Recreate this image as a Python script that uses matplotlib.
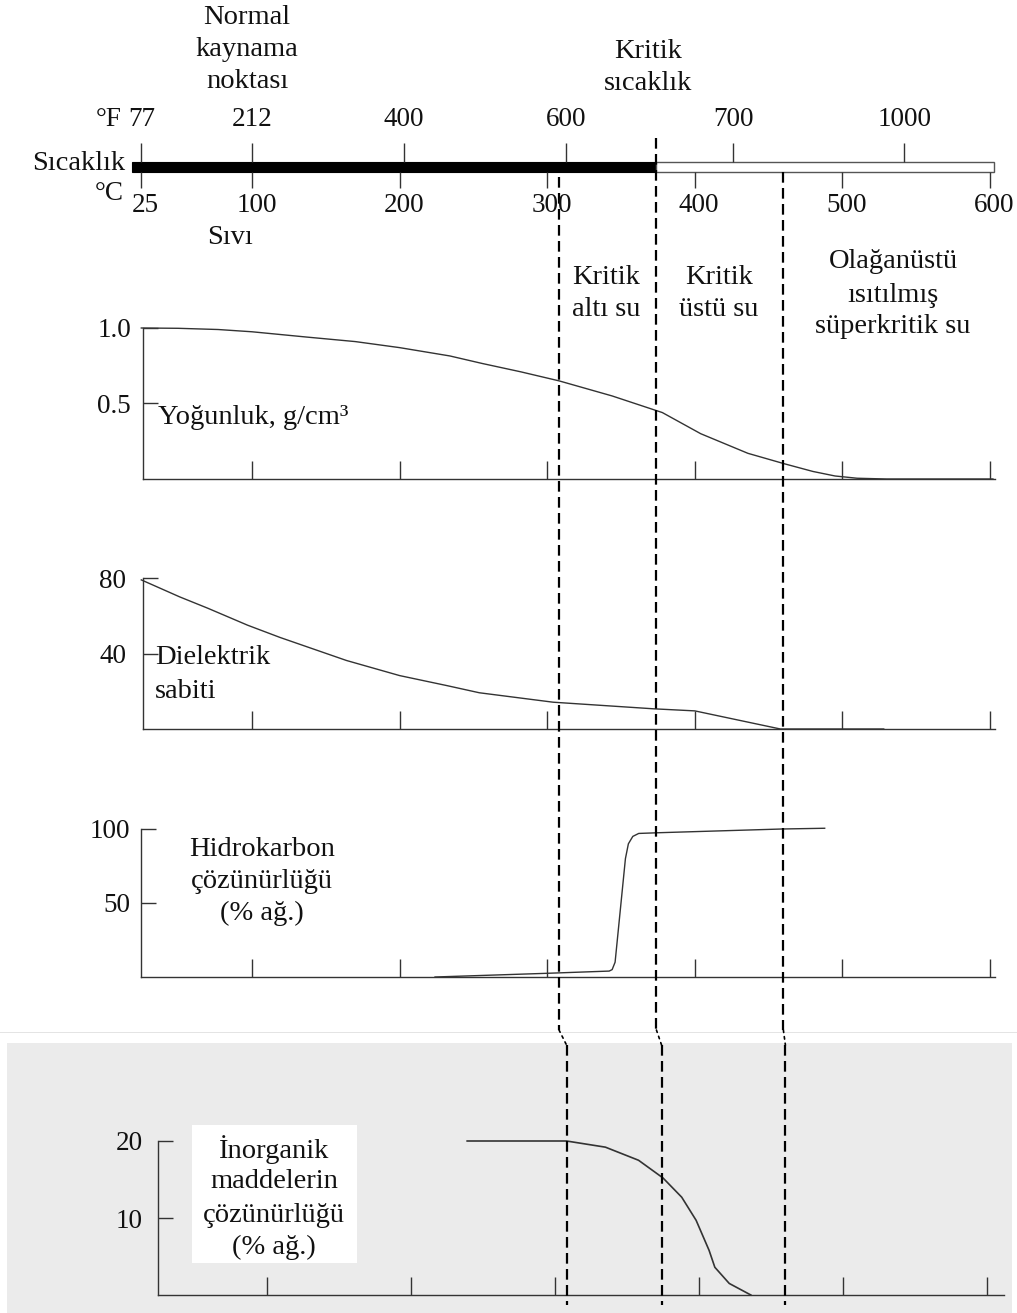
import matplotlib
matplotlib.use('Agg')
import matplotlib.pyplot as plt
from matplotlib.patches import Rectangle, ConnectionPatch

# ---------------- data ----------------
c_ticks = [25, 100, 200, 300, 400, 500, 600]
c_tick_labels = ['25', '100', '200', '300', '400', '500', '600']
f_tick_labels = ['77', '212', '400', '600', '700', '1000']
f_tick_pos_c = [25, 100, 203, 313, 426, 542]      # where the °F marks sit on the °C scale in the original
critical_T = 374
bar_start_T = 19
bar_end_T = 603
region_bounds_T = [308, 374, 460]

density_T = [25, 50, 77, 100, 137, 170, 200, 234, 256, 282, 308, 344, 378, 404, 436, 461, 480, 495, 510, 530, 602]
density_val = [1.0, 0.998, 0.99, 0.975, 0.94, 0.91, 0.87, 0.815, 0.765, 0.71, 0.65, 0.55, 0.44, 0.30, 0.17, 0.10, 0.05, 0.02, 0.005, 0.0, 0.0]

dielectric_T = [25, 51, 70, 97, 119, 164, 200, 232, 254, 304, 372, 400, 458, 528]
dielectric_val = [79, 70, 64, 55, 48.5, 36.3, 28.3, 23, 19.2, 14.2, 10.7, 9.6, 0, 0]

hydro_T = [224, 300, 342, 344, 346, 348, 351, 353, 355, 358, 362, 376, 459, 488]
hydro_val = [0, 2.5, 4, 5, 10, 30, 60, 80, 90, 95, 97, 97.5, 100, 100.5]

inorg_T = [239, 308, 335, 358, 375, 388, 398, 407, 411, 421, 436]
inorg_val = [20, 20, 19.2, 17.5, 15.2, 12.7, 9.7, 5.8, 3.6, 1.5, 0]

# ---------------- layout helpers (pixels of the 1017x1313 image) ----------------
W, H = 1017, 1313
DPI = 100
FONT = 'Liberation Serif'
FS = 20.5
FSN = 19.5
INK = '#111111'
LINE = '#333333'

def T_top(px):          # °C value at a horizontal pixel, upper part of the figure
    return 100 + (px - 252) / 1.476

def T_bot(px):          # °C value at a horizontal pixel, lower (scanned) panel
    return 100 + (px - 267) / 1.44

plt.rcParams['font.family'] = [FONT, 'DejaVu Serif']

fig = plt.figure(figsize=(W / DPI, H / DPI), dpi=DPI)
fig.patch.set_facecolor('white')

def ftext(x, y, s, ha='center', va='center', size=FS):
    fig.text(x / W, 1 - y / H, s, ha=ha, va=va, fontsize=size, color=INK, family=[FONT, 'DejaVu Serif'])

# gray scanned background for the lowest panel
fig.patches.append(Rectangle((0, 1 - 1033 / H), 1, 1.5 / H, transform=fig.transFigure,
                             facecolor='#e4e4e4', edgecolor='none', zorder=-2))
fig.patches.append(Rectangle((7 / W, 0), (1012 - 7) / W, (H - 1043) / H, transform=fig.transFigure,
                             facecolor='#ebebeb', edgecolor='none', zorder=-2))
fig.patches.append(Rectangle((192 / W, 1 - 1263 / H), (357 - 192) / W, (1263 - 1125) / H,
                             transform=fig.transFigure, facecolor='white', edgecolor='none', zorder=-1))


def panel(top_px, bot_px, ymax, yticks, ylabels, Tfun, left_px, right_px, pad_px):
    ax = fig.add_axes([0, 1 - bot_px / H, 1, (bot_px - top_px) / H])
    ax.set_facecolor('none')
    ax.set_xlim(Tfun(0), Tfun(W))
    ax.set_ylim(0, ymax)
    for s in ('top', 'right'):
        ax.spines[s].set_visible(False)
    tl = Tfun(left_px)
    ax.spines['left'].set_position(('data', tl))
    ax.spines['left'].set_bounds(0, ymax)
    ax.spines['bottom'].set_bounds(tl, Tfun(right_px))
    for s in ('left', 'bottom'):
        ax.spines[s].set_color(LINE)
        ax.spines[s].set_linewidth(1.0)
    ax.set_xticks(c_ticks[1:])
    ax.set_xticklabels([])
    ax.set_yticks(yticks)
    ax.set_yticklabels(ylabels, fontsize=FSN, color=INK)
    ax.tick_params(axis='x', direction='in', length=13, width=1.0, color=LINE)
    ax.tick_params(axis='y', direction='in', length=11, width=1.0, color=LINE, pad=pad_px * 0.72)
    return ax

# density
ax1 = panel(328, 479, 1.0, [0.5, 1.0], ['0.5', '1.0'], T_top, 143, 995, 12)
ax1.plot(density_T, density_val, color=LINE, lw=1.0, clip_on=False)

# dielectric constant
ax2 = panel(578, 729, 80, [40, 80], ['40', '80'], T_top, 143, 995, 17)
ax2.plot(dielectric_T, dielectric_val, color=LINE, lw=1.0, clip_on=False)

# hydrocarbon solubility
ax3 = panel(829, 977, 100, [50, 100], ['50', '100'], T_top, 141, 995, 11)
ax3.plot(hydro_T, hydro_val, color=LINE, lw=1.0, clip_on=False)

# inorganic solubility
ax4 = panel(1141, 1295, 20, [10, 20], ['10', '20'], T_bot, 158, 1004, 15)
ax4.plot(inorg_T, inorg_val, color=LINE, lw=1.2, clip_on=False)

# ---------------- overlay: temperature bar, dashed boundaries ----------------
ov = fig.add_axes([0, 0, 1, 1], zorder=5)
ov.set_facecolor('none')
ov.set_xlim(T_top(0), T_top(W))
ov.set_ylim(H, 0)
ov.axis('off')

ov.barh(167, critical_T - bar_start_T, left=bar_start_T, height=10, color='black', edgecolor='black', lw=0.8)
ov.barh(167, bar_end_T - critical_T, left=critical_T, height=10, facecolor='white', edgecolor='#555555', lw=1.0)
ov.vlines(f_tick_pos_c, 143, 162, color=LINE, lw=1.0)
ov.vlines(c_ticks, 172, 188, color=LINE, lw=1.0)
for p, lab in zip(f_tick_pos_c, f_tick_labels):
    ov.text(p, 119, lab, ha='center', va='center', fontsize=FSN, color=INK)
for p, lab in zip(c_ticks, c_tick_labels):
    ov.text(p + 3, 205, lab, ha='center', va='center', fontsize=FSN, color=INK)

dash = (0, (4.8, 2.4))
starts = [177, 138, 172]
for t, s in zip(region_bounds_T, starts):
    ov.plot([t, t], [s, 1030], color='black', lw=1.6, linestyle=dash)

ovb = fig.add_axes([0, 0, 1, 1], zorder=6)
ovb.set_facecolor('none')
ovb.set_xlim(T_bot(0), T_bot(W))
ovb.set_ylim(H, 0)
ovb.axis('off')
for t in region_bounds_T:
    ovb.plot([t, t], [1045, 1305], color='black', lw=1.6, linestyle=dash)
    con = ConnectionPatch(xyA=(t, 1030), coordsA=ov.transData, xyB=(t, 1045), coordsB=ovb.transData,
                          color='black', lw=1.2, linestyle=(0, (1.5, 2.5)))
    fig.add_artist(con)

# ---------------- texts ----------------
ftext(247, 18, 'Normal')
ftext(247, 50, 'kaynama')
ftext(247, 81, 'noktası')
ftext(648, 51, 'Kritik')
ftext(648, 83, 'sıcaklık')
ftext(109, 119, '°F', size=FSN)
ftext(125, 163, 'Sıcaklık', ha='right')
ftext(109, 193, '°C', size=FSN)
ftext(230, 238, 'Sıvı')

ftext(606, 277, 'Kritik')
ftext(606, 309, 'altı su')
ftext(719, 277, 'Kritik')
ftext(719, 309, 'üstü su')
ftext(893, 262, 'Olağanüstü')
ftext(893, 295, 'ısıtılmış')
ftext(893, 327, 'süperkritik su')

ftext(158, 418, 'Yoğunluk, g/cm³', ha='left')
ftext(155, 658, 'Dielektrik', ha='left')
ftext(155, 692, 'sabiti', ha='left')

ftext(262, 850, 'Hidrokarbon')
ftext(262, 882, 'çözünürlüğü')
ftext(262, 913, '(% ağ.)')

ftext(274, 1150, 'İnorganik')
ftext(274, 1182, 'maddelerin')
ftext(274, 1215, 'çözünürlüğü')
ftext(274, 1247, '(% ağ.)')

fig.savefig('out.png', dpi=DPI, facecolor='white')
